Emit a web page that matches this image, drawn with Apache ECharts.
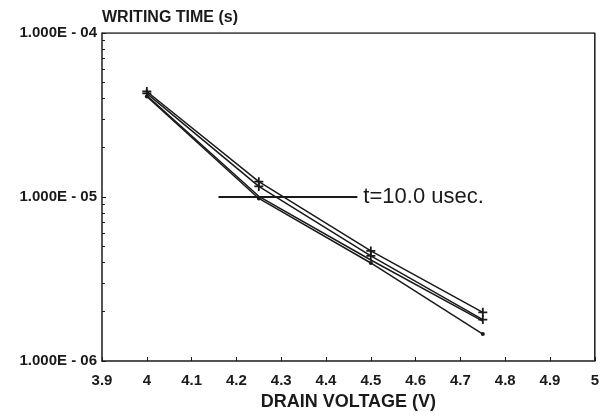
<!DOCTYPE html>
<html>
<head>
<meta charset="utf-8">
<script src="https://cdn.jsdelivr.net/npm/echarts@6/dist/echarts.min.js"></script>
<style>
  html, body { margin: 0; padding: 0; background: #fff; }
  #chart { width: 602px; height: 416px; }
</style>
</head>
<body>
<div id="chart"></div>
<script>
// drain voltage (V)
const voltages = [4.0, 4.25, 4.5, 4.75];
// writing time (s), four devices
const seriesA = [4.40e-5, 1.24e-5, 4.69e-6, 1.98e-6];
const seriesB = [4.28e-5, 1.16e-5, 4.37e-6, 1.79e-6];
const seriesC = [4.16e-5, 1.01e-5, 4.13e-6, 1.75e-6];
const seriesD = [4.10e-5, 9.8e-6, 3.96e-6, 1.46e-6];
// reference line t = 10 usec
const refX = [4.16, 4.47];
const refY = 1e-5;
const refLabel = 't=10.0 usec.';

const ink = '#1a1a1a';
const plus = 'path://M4,0H6V4H10V6H6V10H4V6H0V4H4Z';

function pairs(xs, ys) {
  return xs.map((x, i) => [x, ys[i]]);
}

function curve(data, symbol, size) {
  return {
    type: 'line',
    data: pairs(voltages, data),
    symbol: symbol,
    symbolSize: size,
    showSymbol: symbol !== 'none',
    lineStyle: { color: ink, width: 1.5 },
    itemStyle: { color: ink },
    animation: false
  };
}

const myChart = echarts.init(document.getElementById('chart'));
myChart.setOption({
  animation: false,
  title: {
    text: 'WRITING TIME (s)',
    left: 97,
    top: 5,
    textStyle: { fontFamily: 'Liberation Sans', fontSize: 16, fontWeight: 'bold', color: ink }
  },
  grid: { left: 102, right: 4, top: 33, bottom: 52 },
  xAxis: {
    type: 'value',
    min: 3.9,
    max: 5,
    interval: 0.1,
    name: 'DRAIN VOLTAGE (V)',
    nameLocation: 'middle',
    nameGap: 32,
    nameTextStyle: { fontFamily: 'Liberation Sans', fontSize: 18, fontWeight: 'bold', color: ink },
    axisLine: { lineStyle: { color: ink, width: 1.5 } },
    axisTick: { inside: true, length: 4, lineStyle: { color: ink } },
    axisLabel: {
      fontFamily: 'Liberation Sans', fontSize: 15, fontWeight: 'bold', color: ink, margin: 12,
      formatter: v => String(Number(v.toFixed(1)))
    },
    splitLine: { show: false }
  },
  yAxis: {
    type: 'log',
    min: 1e-6,
    max: 1e-4,
    logBase: 10,
    axisLine: { lineStyle: { color: ink, width: 1.5 } },
    axisTick: { inside: true, length: 4, lineStyle: { color: ink } },
    minorTick: { show: true, splitNumber: 9, length: 3, lineStyle: { color: ink } },
    axisLabel: {
      fontFamily: 'Liberation Sans', fontSize: 15, fontWeight: 'bold', color: ink, margin: 5,
      formatter: v => {
        const e = Math.round(Math.log10(v));
        const m = (v / Math.pow(10, e)).toFixed(3);
        return m + 'E - ' + String(Math.abs(e)).padStart(2, '0');
      }
    },
    splitLine: { show: false }
  },
  series: [
    curve(seriesA, plus, 9),
    curve(seriesB, plus, 9),
    curve(seriesC, 'none', 0),
    curve(seriesD, 'circle', 4),
    {
      type: 'line',
      data: refX.map(x => [x, refY]),
      symbol: 'none',
      lineStyle: { color: ink, width: 2 },
      endLabel: {
        show: true,
        formatter: refLabel,
        fontFamily: 'Liberation Sans',
        fontSize: 22,
        color: ink,
        distance: 6
      }
    },
    // box top and right edges
    {
      type: 'line',
      data: [[3.9, 1e-4], [5, 1e-4], [5, 1e-6]],
      symbol: 'none',
      lineStyle: { color: ink, width: 1.5 },
      silent: true
    }
  ]
});
</script>
</body>
</html>
